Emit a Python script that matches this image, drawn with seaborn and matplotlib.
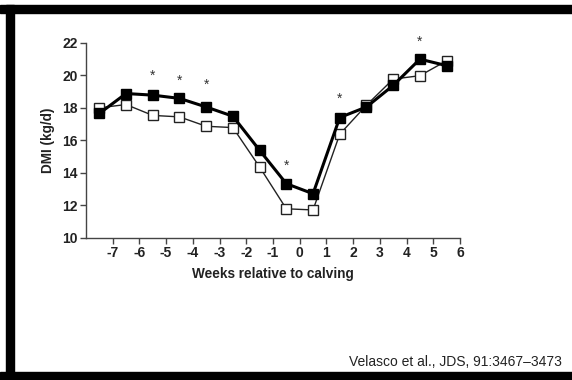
import matplotlib
matplotlib.use("Agg")
import matplotlib.pyplot as plt
import seaborn as sns
import pandas as pd
from matplotlib.patches import Rectangle

weeks = [-7.5, -6.5, -5.5, -4.5, -3.5, -2.5, -1.5, -0.5, 0.5, 1.5, 2.5, 3.5, 4.5, 5.5]
filled_dmi = [17.65, 18.88, 18.78, 18.58, 18.05, 17.48, 15.38, 13.32, 12.7, 17.4, 18.05, 19.38, 21.0, 20.6]
open_dmi = [18.0, 18.2, 17.53, 17.44, 16.86, 16.78, 14.35, 11.77, 11.7, 16.37, 18.16, 19.77, 19.98, 20.9]
star_weeks = [-5.5, -4.5, -3.5, -0.5, 1.5, 4.5]
star_y = [19.95, 19.65, 19.4, 14.4, 18.55, 22.05]
xticks = [-7, -6, -5, -4, -3, -2, -1, 0, 1, 2, 3, 4, 5, 6]
yticks = [10, 12, 14, 16, 18, 20, 22]
xlabel = "Weeks relative to calving"
ylabel = "DMI (kg/d)"
citation = "Velasco et al., JDS, 91:3467\u20133473"

sns.set_theme(style="white")
plt.rcParams['font.family'] = ['Liberation Sans', 'DejaVu Sans']

fig = plt.figure(figsize=(5.72, 3.80), dpi=100)
fig.patch.set_facecolor("white")
ax = fig.add_axes([0.1503, 0.375, 0.6538, 0.512])

df_open = pd.DataFrame({"week": weeks, "dmi": open_dmi})
df_filled = pd.DataFrame({"week": weeks, "dmi": filled_dmi})

sns.lineplot(data=df_open, x="week", y="dmi", ax=ax, color="#222222", linewidth=1.0,
             marker="s", markersize=6.5, markerfacecolor="white", markeredgecolor="#222222",
             markeredgewidth=1.0, zorder=3)
sns.lineplot(data=df_filled, x="week", y="dmi", ax=ax, color="black", linewidth=2.2,
             marker="s", markersize=6.5, markerfacecolor="black", markeredgecolor="black",
             markeredgewidth=1.0, zorder=4)

for xw, yv in zip(star_weeks, star_y):
    ax.text(xw, yv, "*", ha="center", va="center", fontsize=10, color="#333333")

ax.set_xlim(-8, 6)
ax.set_ylim(10, 22)
ax.set_xticks(xticks)
ax.set_yticks(yticks)
ax.set_xticklabels([str(t) for t in xticks], fontweight="bold", fontsize=10, color="#222222")
ax.set_yticklabels([str(t) for t in yticks], fontweight="bold", fontsize=10, color="#222222")
ax.set_xlabel(xlabel, fontweight="bold", fontsize=9.8, color="#222222", labelpad=5)
ax.set_ylabel(ylabel, fontweight="bold", fontsize=9.8, color="#222222", labelpad=5)
ax.tick_params(axis="both", direction="out", length=4, width=1, color="#444444", pad=2,
               bottom=True, left=True)
for side in ["top", "right"]:
    ax.spines[side].set_visible(False)
for side in ["left", "bottom"]:
    ax.spines[side].set_color("#444444")
    ax.spines[side].set_linewidth(1.0)
ax.set_facecolor("white")
ax.grid(False)

fig.text(0.9825, 0.0474, citation, ha="right", va="center", fontsize=10, color="#222222")

W, H = 572.0, 380.0
fig.patches.append(Rectangle((0, 1 - 13 / H), 1, 8 / H, transform=fig.transFigure, color="black", zorder=10))
fig.patches.append(Rectangle((6 / W, 0), 8 / W, 1 - 5 / H, transform=fig.transFigure, color="black", zorder=10))
fig.patches.append(Rectangle((0, 0), 1, 8 / H, transform=fig.transFigure, color="black", zorder=10))

fig.savefig("out.png", dpi=100, facecolor="white")
